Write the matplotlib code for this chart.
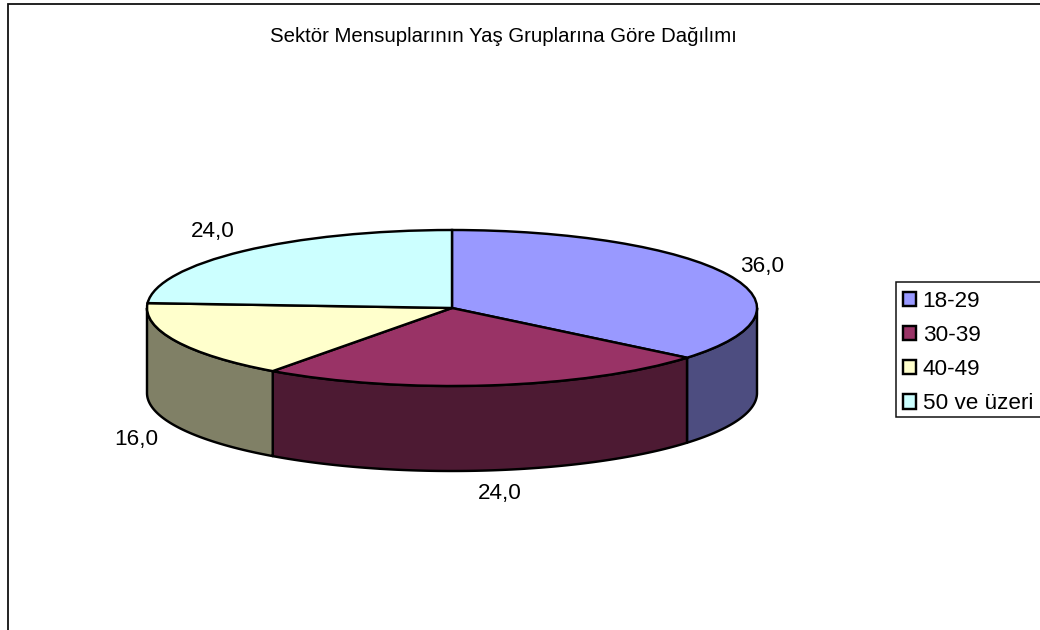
import numpy as np
import matplotlib
matplotlib.use("Agg")
import matplotlib.pyplot as plt
from matplotlib.patches import Patch, Rectangle

plt.rcParams['font.family'] = ['Liberation Sans', 'DejaVu Sans']

title = "Sektör Mensuplarının Yaş Gruplarına Göre Dağılımı"
categories = ["18-29", "30-39", "40-49", "50 ve üzeri"]
values = [36.0, 24.0, 16.0, 24.0]
top_colors = ["#9999FF", "#993366", "#FFFFCC", "#CCFFFF"]
side_colors = ["#4D4D80", "#4D1A33", "#808066", "#668080"]

W, H = 1040, 630
CX, CY, RX, RY, DEPTH = 452, 308, 305, 78, 85
LW = 1.75
FS = 16.2


def fx(x):
    return x / W


def fy(y):
    return 1 - y / H


fig = plt.figure(figsize=(W / 100, H / 100), dpi=100, facecolor="white")
ax = fig.add_axes([0, 0, 1, 1])

# outer chart frame (runs off the right and bottom edges)
fig.add_artist(Rectangle((fx(8), fy(H + 10)), fx(W + 20 - 8), fy(4) - fy(H + 10),
                         transform=fig.transFigure, fill=False,
                         edgecolor="#111111", linewidth=1.3))

# side walls: visible part of each slice lies in the front half of the ellipse
depth_units = DEPTH / RY
start = 90.0
total = sum(values)
for v, c in zip(values, side_colors):
    end = start - 360.0 * v / total
    lo, hi = end, start
    a0 = max(lo, -180.0)
    a1 = min(hi, 0.0)
    if a1 > a0:
        t = np.radians(np.linspace(a0, a1, 200))
        xs = np.cos(t)
        ys = np.sin(t)
        ax.fill(np.r_[xs, xs[::-1]], np.r_[ys, ys[::-1] - depth_units],
                facecolor=c, edgecolor="black", linewidth=LW, joinstyle="round", zorder=1)
    start = end

ax.pie(values, colors=top_colors, startangle=90, counterclock=False, radius=1,
       wedgeprops=dict(edgecolor="black", linewidth=LW), normalize=True)
for p in ax.patches[-len(values):]:
    p.set_zorder(2)

ax.set_aspect("auto")
ax.set_xlim(-CX / RX, (W - CX) / RX)
ax.set_ylim(-(H - CY) / RY, CY / RY)
ax.axis("off")

fig.text(fx(503.5), fy(36.5), title, ha="center", va="center", fontsize=14.65, color="black")

label_pos = [(762, 266), (500, 493), (136, 440), (213, 231)]
for v, (x, y) in zip(values, label_pos):
    fig.text(fx(x), fy(y), f"{v:.1f}".replace(".", ","), ha="center", va="center",
             fontsize=FS, color="black")

# legend box
fig.add_artist(Rectangle((fx(896), fy(417)), fx(W + 20 - 896), fy(282) - fy(417),
                         transform=fig.transFigure, facecolor="white",
                         edgecolor="#111111", linewidth=1.1))
handles = [Patch(facecolor=c, edgecolor="black", linewidth=LW) for c in top_colors]
leg = fig.legend(handles, categories, loc="upper left",
                 bbox_to_anchor=(fx(902.5), fy(291)), bbox_transform=fig.transFigure,
                 frameon=False, fontsize=FS, borderpad=0, borderaxespad=0,
                 handlelength=0.62, handleheight=0.62, handletextpad=0.28,
                 labelspacing=0.58, labelcolor="black")
leg.set_zorder(5)

fig.savefig("out.png", dpi=100, facecolor="white")
